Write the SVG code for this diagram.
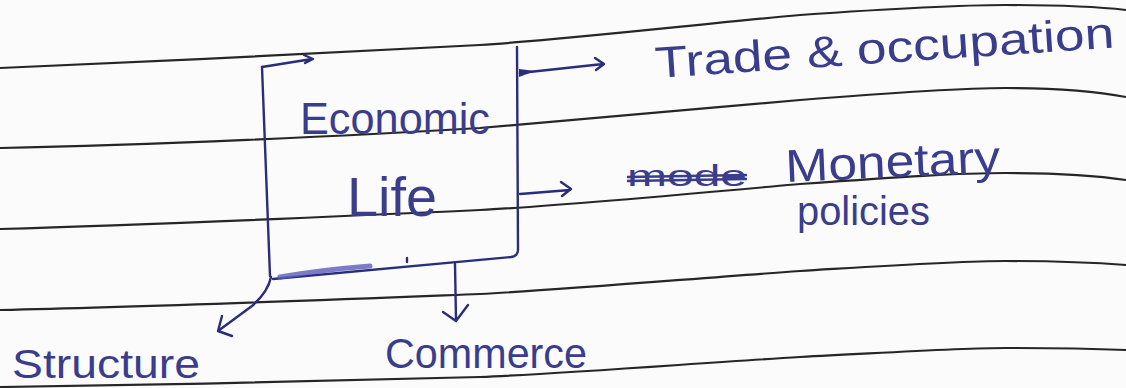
<svg xmlns="http://www.w3.org/2000/svg" width="1126" height="388" viewBox="0 0 1126 388">
<style>
.rule{fill:none;stroke:#262626;stroke-width:2.2}
.ink{fill:none;stroke:#2a2d7a;stroke-width:2.4;stroke-linecap:round;stroke-linejoin:round}
.hand{font-family:"Liberation Sans","DejaVu Sans",sans-serif;fill:#3a3d8c}
</style>
<rect width="1126" height="388" fill="#fbfbfb"/>
<g id="paper-lines">
<path class="rule" d="M0,68 C150,62 350,52 480,45 C560,40 700,24 800,15 C900,8 960,5 1006,5 C1060,5 1100,7 1126,10"/>
<path class="rule" d="M0,148 C150,145 350,136 480,128 C560,122 700,108 800,100 C900,92 960,88 1006,88 C1060,88 1100,92 1126,97"/>
<path class="rule" d="M0,229 C150,225 350,216 480,210 C560,206 700,193 800,184 C900,177 960,173 1006,173 C1060,173 1100,176 1126,180"/>
<path class="rule" d="M0,310 C150,307 350,299 480,294 C560,290 700,278 800,271 C900,265 960,261 1006,261 C1060,261 1100,263 1126,265"/>
<path class="rule" d="M0,387 C150,385 350,381 480,377 C560,374 700,363 800,357 C900,352 960,348 1006,348 C1060,348 1100,349 1126,350"/>
</g>
<g id="economic-life">
<path class="ink" d="M262,67 L270,276"/>
<path class="ink" d="M262,67 L312,59 M304,55 L313,59 L305,63"/>
<path class="ink" d="M517,47 L518,250 Q518,256 511,257 L273,279"/>
<path class="ink" d="M407,262 L407,258"/>
<path d="M280,277 Q320,270 370,266" fill="none" stroke="#5a5cb8" stroke-width="5" stroke-linecap="round" opacity="0.8"/>
<text class="hand" x="300" y="134" font-size="44" textLength="190" lengthAdjust="spacingAndGlyphs">Economic</text>
<text class="hand" x="347" y="216" font-size="56" textLength="90" lengthAdjust="spacingAndGlyphs">Life</text>
</g>
<g id="trade">
<text class="hand" x="0" y="0" font-size="44" textLength="460" lengthAdjust="spacingAndGlyphs" transform="translate(656,78) rotate(-3.8)">Trade &amp; occupation</text>
</g>
<g id="monetary">
<text class="hand" x="627" y="186" font-size="30" textLength="120" lengthAdjust="spacingAndGlyphs">mode</text>
<path d="M627,177 L747,175 M627,181 L747,179" stroke="#3a3d8c" stroke-width="2.5" fill="none"/>
<text class="hand" x="0" y="0" font-size="46" textLength="215" lengthAdjust="spacingAndGlyphs" transform="translate(786,182) rotate(-2.5)">Monetary</text>
<text class="hand" x="797" y="225" font-size="40" textLength="133" lengthAdjust="spacingAndGlyphs">policies</text>
</g>
<g id="structure">
<text class="hand" x="12" y="378" font-size="40" textLength="188" lengthAdjust="spacingAndGlyphs">Structure</text>
</g>
<g id="commerce">
<text class="hand" x="385" y="368" font-size="42" textLength="202" lengthAdjust="spacingAndGlyphs">Commerce</text>
</g>
<g id="connectors">
<path class="ink" d="M520,73 L603,64 M595,58 L604,64 L596,70"/>
<path d="M519,69 L535,71 L519,77 Z" fill="#2a2d7a"/>
<path class="ink" d="M520,194 L570,190 M561,182 L571,189 L562,196"/>
<path class="ink" d="M271,277 Q268,292 252,306 L218,331 M222,316 L218,331 L232,336"/>
<path class="ink" d="M455,264 L456,320 M443,312 L456,321 L468,305"/>
</g>
</svg>
